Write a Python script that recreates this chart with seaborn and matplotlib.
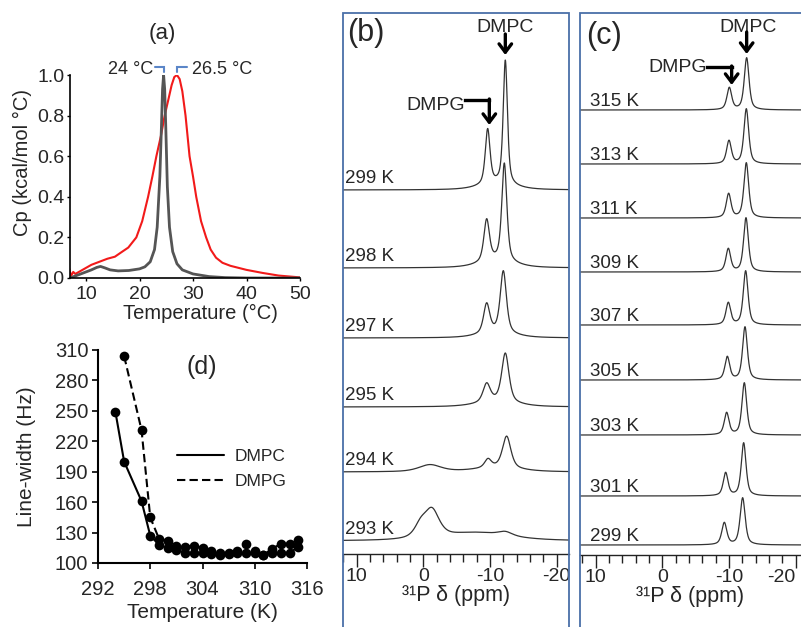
import numpy as np
import pandas as pd
import matplotlib
matplotlib.use("Agg")
import matplotlib.pyplot as plt
import seaborn as sns
from matplotlib.patches import Rectangle
from matplotlib.lines import Line2D
from matplotlib.ticker import MultipleLocator, FixedLocator, FixedFormatter

W, H = 801, 627

# ---------------- (a) DSC thermograms ----------------
dsc_T_pc = [7, 7.5, 8, 9, 10, 11, 12, 12.7, 13.5, 14.5, 16, 18, 20, 21, 22, 22.8, 23.3, 23.8,
            24.1, 24.3, 24.5, 24.7, 24.9, 25.2, 25.6, 26.2, 27, 28, 30, 33, 36, 40, 50]
dsc_cp_pc = [0.0, 0.005, 0.01, 0.02, 0.03, 0.04, 0.052, 0.057, 0.05, 0.04, 0.035, 0.037, 0.045,
             0.055, 0.08, 0.14, 0.25, 0.5, 0.75, 0.93, 1.0, 0.93, 0.75, 0.45, 0.25, 0.13, 0.07,
             0.04, 0.02, 0.007, 0.002, 0.0, 0.0]
dsc_T_mix = [6.8, 7.2, 7.6, 8.0, 9, 10, 11, 12, 13, 14, 15.4, 16.5, 17.9, 19.4, 20.5, 21.6, 22.4,
             23.15, 24.0, 24.7, 25.4, 26.0, 26.5, 27.0, 27.5, 28.0, 28.6, 29.35, 30.0, 30.6, 31.5,
             32.45, 33.3, 34.3, 35.5, 37, 40, 43, 46, 50]
dsc_cp_mix = [0.05, 0.01, 0.03, 0.02, 0.035, 0.05, 0.065, 0.075, 0.085, 0.095, 0.105, 0.125, 0.15,
              0.2, 0.28, 0.4, 0.5, 0.6, 0.7, 0.8, 0.88, 0.95, 0.99, 1.0, 0.98, 0.92, 0.8, 0.6, 0.5,
              0.4, 0.28, 0.2, 0.14, 0.1, 0.075, 0.06, 0.04, 0.025, 0.012, 0.003]
dsc_peak_labels = ["24 °C", "26.5 °C"]

# ---------------- (d) line widths ----------------
lw_T_dmpc = [294, 295, 297, 298, 299, 300, 301, 302, 303, 304, 305, 306, 307, 308, 309, 310,
             311, 312, 313, 314, 315]
lw_dmpc = [249, 200, 161, 127, 118, 115, 113, 110, 110, 110, 109, 108, 109, 110, 110, 110,
           108, 110, 110, 110, 116]
lw_T_dmpg = [295, 297, 298, 299, 300, 301, 302, 303, 304, 305, 306, 307, 308, 309, 310, 311,
             312, 313, 314, 315]
lw_dmpg = [304, 231, 145, 124, 122, 117, 116, 117, 115, 112, 110, 110, 112, 119, 112, 108,
           114, 119, 119, 123]

# ---------------- (b) 31P spectra 293-299 K ----------------
temps_b = ["299 K", "298 K", "297 K", "295 K", "294 K", "293 K"]
offset_b = [364, 286, 216, 147, 82, 13]
dmpc_ppm_b = [-12.3, -12.15, -12.0, -12.3, -12.5, -12.3]
dmpc_h_b = [124, 98, 62, 49, 32, 4]
dmpc_w_b = [0.75, 0.9, 1.1, 1.3, 1.5, 2.5]
dmpg_ppm_b = [-9.65, -9.5, -9.5, -9.5, -9.7, -9.7]
dmpg_h_b = [55, 42, 29.5, 18.5, 8.5, 0]
dmpg_w_b = [0.85, 1.0, 1.1, 1.3, 1.2, 1.0]
broad_ppm_b = [-11.0, -11.0, -11.0, -11.0, -11.0, -8.0]
broad_h_b = [6, 7, 5, 5, 4, 8]
broad_w_b = [6, 6, 6, 7, 8, 12]
gel_ppm_b = [-1.0, -1.0, -1.0, -1.0, -1.0, -1.3]
gel_h_b = [0, 0, 0, 0, 7, 27]
gel_w_b = [4, 4, 4, 4, 4, 2.6]
gel2_ppm_b = [0.4, 0.4, 0.4, 0.4, 0.4, 0.4]
gel2_h_b = [0, 0, 0, 0, 0, 12]
gel2_w_b = [2.2, 2.2, 2.2, 2.2, 2.2, 2.2]

# ---------------- (c) 31P spectra 299-315 K ----------------
temps_c = ["315 K", "313 K", "311 K", "309 K", "307 K", "305 K", "303 K", "301 K", "299 K"]
offset_c = [445, 391, 337, 283, 230, 175, 120, 59, 10]
dmpc_ppm_c = [-12.65, -12.6, -12.6, -12.55, -12.5, -12.4, -12.3, -12.2, -12.05]
dmpc_h_c = [52, 55, 55, 54, 54, 53, 52, 53, 47]
dmpg_ppm_c = [-10.05, -10.0, -9.95, -9.9, -9.9, -9.75, -9.65, -9.5, -9.3]
dmpg_h_c = [22, 23, 24, 23, 22, 23, 22, 23, 22]
peak_w_c = [0.85, 0.85, 0.85, 0.85, 0.85, 0.85, 0.85, 0.85, 0.9]

ppm_ticks = [10, 0, -10, -20]
ETA = 0.6


def pv(x, c, h, w):
    g = np.exp(-4 * np.log(2) * ((x - c) / w) ** 2)
    lo = 1.0 / (1.0 + 4 * ((x - c) / w) ** 2)
    return h * (ETA * lo + (1 - ETA) * g)


# ---------------- style ----------------
sns.set_style("ticks")
plt.rcParams['font.family'] = ['Liberation Sans', 'DejaVu Sans']
plt.rcParams['axes.unicode_minus'] = False
plt.rcParams['axes.linewidth'] = 1.2

fig = plt.figure(figsize=(W / 100, H / 100), dpi=100)
fig.patch.set_facecolor('white')


def rect(l, t, r, b):
    return [l / W, 1 - b / H, (r - l) / W, (b - t) / H]


def fpt(x, y):
    return (x / W, 1 - y / H)


# ================= (a) =================
ax_a = fig.add_axes(rect(70, 75, 300, 278))
df_pc = pd.DataFrame({"T": dsc_T_pc, "Cp": dsc_cp_pc})
df_mix = pd.DataFrame({"T": dsc_T_mix, "Cp": dsc_cp_mix})
sns.lineplot(data=df_mix, x="T", y="Cp", ax=ax_a, color="#f21a1a", lw=1.5, sort=False, estimator=None)
sns.lineplot(data=df_pc, x="T", y="Cp", ax=ax_a, color="#555555", lw=2.0, sort=False, estimator=None)
ax_a.set_xlim(7, 50)
ax_a.set_ylim(0, 1.0)
ax_a.set_xticks([10, 20, 30, 40, 50])
ax_a.set_yticks([0, 0.2, 0.4, 0.6, 0.8, 1.0])
ax_a.set_yticklabels([f"{v:.1f}" for v in [0, 0.2, 0.4, 0.6, 0.8, 1.0]])
sns.despine(ax=ax_a)
for s in ax_a.spines.values():
    s.set_color('black')
ax_a.tick_params(axis='both', labelsize=14, length=2, width=1, color='black', pad=2)
ax_a.tick_params(axis='x', pad=4)
ax_a.set_xlabel("Temperature (°C)", fontsize=14.5, labelpad=0)
ax_a.set_ylabel("Cp (kcal/mol °C)", fontsize=14.5, va='center')
ax_a.yaxis.set_label_coords((22 - 70) / 230, (278 - 162) / 203)
ax_a.xaxis.set_label_coords((200 - 70) / 230, (278 - 313) / 203)
ax_a.xaxis.label.set_va('center')
# peak markers
pk_pc = dsc_T_pc[int(np.argmax(dsc_cp_pc))]
pk_mix = dsc_T_mix[int(np.argmax(dsc_cp_mix))]
bc = "#5b86c8"
ax_a.plot([pk_pc - 1.7, pk_pc, pk_pc], [1.04, 1.04, 1.015], color=bc, lw=1.5, clip_on=False,
          solid_joinstyle='miter')
ax_a.plot([pk_mix, pk_mix, pk_mix + 1.8], [1.015, 1.04, 1.04], color=bc, lw=1.5, clip_on=False,
          solid_joinstyle='miter')
ax_a.text(pk_pc - 2.0, 1.025, dsc_peak_labels[0], ha='right', va='center', fontsize=13)
ax_a.text(pk_mix + 2.9, 1.025, dsc_peak_labels[1], ha='left', va='center', fontsize=13)
fig.text(*fpt(162, 33), "(a)", ha='center', va='center', fontsize=16)

# ================= (d) =================
ax_d = fig.add_axes(rect(98, 350, 307, 563))
sns.lineplot(x=lw_T_dmpc, y=lw_dmpc, ax=ax_d, color='black', lw=1.5, marker='o', markersize=7,
             markeredgewidth=0, estimator=None, sort=False)
sns.lineplot(x=lw_T_dmpg, y=lw_dmpg, ax=ax_d, color='black', lw=1.5, marker='o', markersize=7,
             markeredgewidth=0, estimator=None, sort=False)
ax_d.lines[-1].set_dashes([4, 2])
ax_d.set_xlim(292, 316)
ax_d.set_ylim(100, 310)
ax_d.set_xticks([292, 298, 304, 310, 316])
ax_d.set_yticks(list(range(100, 311, 30)))
sns.despine(ax=ax_d)
for s in ax_d.spines.values():
    s.set_color('black')
    s.set_linewidth(1.5)
ax_d.tick_params(axis='both', labelsize=14.5, length=4, width=1.2, color='black', pad=3)
ax_d.tick_params(axis='x', pad=8)
ax_d.set_xlabel("Temperature (K)", fontsize=15, labelpad=3)
ax_d.set_ylabel("Line-width (Hz)", fontsize=15, va='center')
ax_d.yaxis.set_label_coords((27 - 98) / 209, 0.5)
handles = [Line2D([], [], color='black', lw=1.5),
           Line2D([], [], color='black', lw=1.5, dashes=[4, 2])]
ax_d.legend(handles=handles, labels=["DMPC", "DMPG"], frameon=False, fontsize=12.5,
            loc='upper left', bbox_to_anchor=((177 - 98) / 209, (563 - 449) / 213),
            borderaxespad=0, borderpad=0, handlelength=2.7, handletextpad=0.6, labelspacing=0.55)
fig.text(*fpt(202, 367), "(d)", ha='center', va='center', fontsize=18)


# ================= spectra helpers =================
def spectra_frame(ppm, temps, offsets, comps):
    rows = []
    for i, t in enumerate(temps):
        y = np.full_like(ppm, float(offsets[i]))
        for (cs, hs, ws) in comps:
            y = y + pv(ppm, cs[i], hs[i], ws[i])
        rows.append(pd.DataFrame({"ppm": ppm, "I": y, "T": t}))
    return pd.concat(rows, ignore_index=True)


def style_spec_axis(ax, xl, ylim_top):
    ax.set_xlim(*xl)
    ax.set_ylim(0, ylim_top)
    ax.set_yticks([])
    for k in ['top', 'left', 'right']:
        ax.spines[k].set_visible(False)
    ax.spines['bottom'].set_color('#222222')
    ax.spines['bottom'].set_linewidth(1.0)
    ax.xaxis.set_major_locator(FixedLocator(ppm_ticks))
    ax.xaxis.set_major_formatter(FixedFormatter([str(v) for v in ppm_ticks]))
    ax.xaxis.set_minor_locator(MultipleLocator(2))
    ax.tick_params(axis='x', which='major', length=9, width=1, color='#222222', labelsize=14, pad=1)
    ax.tick_params(axis='x', which='minor', length=6, width=1, color='#222222', bottom=True)
    ax.set_xlabel("³¹P δ (ppm)", fontsize=15.5, labelpad=0)
    ax.set_ylabel("")
    ax.patch.set_alpha(0)
    if ax.get_legend():
        ax.get_legend().remove()


frame_col = "#4a6fa8"

# ================= (b) =================
ax_b = fig.add_axes(rect(342.7, 13.3, 569.3, 554))
ppm_b = np.linspace(12.5, -22.5, 1400)
df_b = spectra_frame(ppm_b, temps_b, offset_b,
                     [(dmpc_ppm_b, dmpc_h_b, dmpc_w_b), (dmpg_ppm_b, dmpg_h_b, dmpg_w_b),
                      (broad_ppm_b, broad_h_b, broad_w_b), (gel_ppm_b, gel_h_b, gel_w_b),
                      (gel2_ppm_b, gel2_h_b, gel2_w_b)])
sns.lineplot(data=df_b, x="ppm", y="I", units="T", estimator=None, sort=False, ax=ax_b,
             color="#333333", lw=0.9)
style_spec_axis(ax_b, (12.1, -21.9), 554 - 13.3)
for t, o in zip(temps_b, offset_b):
    ax_b.text(0.012, o + 7, t, transform=ax_b.get_yaxis_transform(), ha='left', va='baseline',
              fontsize=13.5)
# annotations
ax_b.text(dmpc_ppm_b[0], 527, "DMPC", ha='center', va='center', fontsize=14)
ax_b.annotate("", xy=(dmpc_ppm_b[0], 499), xytext=(dmpc_ppm_b[0], 520),
              arrowprops=dict(arrowstyle='->,head_length=0.6,head_width=0.45', lw=2.4, color='black',
                              shrinkA=0, shrinkB=0, mutation_scale=10))
ax_b.text(-6.25, 449, "DMPG", ha='right', va='center', fontsize=14)
ax_b.plot([-6.25, dmpg_ppm_b[0] - 0.25], [454, 454], color='black', lw=2.4, solid_capstyle='projecting')
ax_b.annotate("", xy=(dmpg_ppm_b[0] - 0.25, 429), xytext=(dmpg_ppm_b[0] - 0.25, 455),
              arrowprops=dict(arrowstyle='->,head_length=0.6,head_width=0.45', lw=2.4, color='black',
                              shrinkA=0, shrinkB=0, mutation_scale=10))
fig.text(*fpt(366, 33), "(b)", ha='center', va='center', fontsize=22)

# ================= (c) =================
ax_c = fig.add_axes(rect(580, 13.3, 801, 555))
ppm_c = np.linspace(12.5, -21.5, 1400)
df_c = spectra_frame(ppm_c, temps_c, offset_c,
                     [(dmpc_ppm_c, dmpc_h_c, peak_w_c), (dmpg_ppm_c, dmpg_h_c, peak_w_c)])
sns.lineplot(data=df_c, x="ppm", y="I", units="T", estimator=None, sort=False, ax=ax_c,
             color="#333333", lw=0.9)
style_spec_axis(ax_c, (12.34, -20.8), 555 - 13.3)
# keep the last tick label inside the figure edge
fig.canvas.draw()
ax_c.get_xticklabels()[-1].set_horizontalalignment('right')
ax_c.get_xticklabels()[-1].set_x(-20.8)
for t, o in zip(temps_c, offset_c):
    ax_c.text(0.045, o + 4, t, transform=ax_c.get_yaxis_transform(), ha='left', va='baseline',
              fontsize=13.5)
ax_c.text(dmpc_ppm_c[0] - 0.15, 528, "DMPC", ha='center', va='center', fontsize=14)
ax_c.annotate("", xy=(dmpc_ppm_c[0], 501), xytext=(dmpc_ppm_c[0], 523),
              arrowprops=dict(arrowstyle='->,head_length=0.6,head_width=0.45', lw=2.4, color='black',
                              shrinkA=0, shrinkB=0, mutation_scale=10))
ax_c.text(-6.7, 487, "DMPG", ha='right', va='center', fontsize=14)
ax_c.plot([-6.7, dmpg_ppm_c[0] - 0.35], [488, 488], color='black', lw=2.4, solid_capstyle='projecting')
ax_c.annotate("", xy=(dmpg_ppm_c[0] - 0.35, 470), xytext=(dmpg_ppm_c[0] - 0.35, 489),
              arrowprops=dict(arrowstyle='->,head_length=0.6,head_width=0.45', lw=2.4, color='black',
                              shrinkA=0, shrinkB=0, mutation_scale=10))
fig.text(*fpt(603.5, 36), "(c)", ha='center', va='center', fontsize=22)

# frames
fig.add_artist(Rectangle(((342.7) / W, -0.05), 226.6 / W, 1.05 - 13.3 / H, transform=fig.transFigure,
                         fill=False, edgecolor=frame_col, lw=1.3))
fig.add_artist(Rectangle(((580) / W, -0.05), 0.5, 1.05 - 13.3 / H, transform=fig.transFigure,
                         fill=False, edgecolor=frame_col, lw=1.3))

fig.savefig("out.png", dpi=100)
